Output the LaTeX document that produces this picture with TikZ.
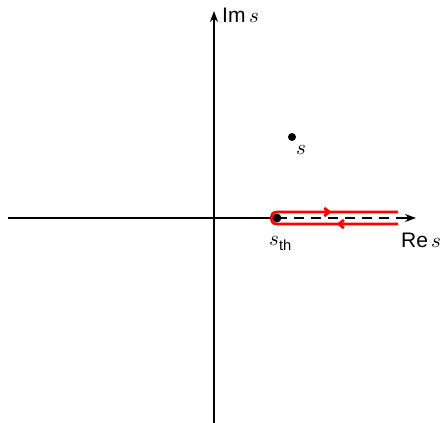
\documentclass[tikz,border=0pt]{standalone}
\usepackage{amsmath}
\usepackage{fontspec}
\setsansfont{Liberation Sans}
\usepackage{unicode-math}
\setmathfont{Latin Modern Math}
\usetikzlibrary{arrows.meta,decorations.markings}
\begin{document}
\begin{tikzpicture}[x=1pt,y=-1pt,
  axis/.style={line width=2.9pt,-{Stealth[length=11pt,width=8pt]}},
  lbl/.style={font=\fontsize{21}{25}\selectfont, inner sep=0pt},
  contour/.style={red, line width=2.8pt,
    postaction={decorate, decoration={markings,
      mark=at position 0.235 with {\arrow{Straight Barb[length=5pt,width=8pt]}},
      mark=at position 0.745 with {\arrow{Straight Barb[length=5pt,width=8pt]}}}}}]
\useasboundingbox (0,0) rectangle (440,423);
\coordinate (L) at (8,218);
\coordinate (R) at (416,218);
\coordinate (B) at (214,423);
\coordinate (T) at (214,11);
\coordinate (sth) at (277,218);
\coordinate (sp) at (292,137);
\coordinate (Rend) at (404,218);
% axes
\draw[axis] (B) -- (T);
\draw[line width=2.9pt] (L) -- (sth);
\draw[line width=2.9pt, dash pattern=on 10pt off 7pt] (sth) -- (Rend);
\draw[axis] (Rend) -- (R);
% contour
\draw[contour] (398,224) -- (277,224) .. controls (269,224) and (269,212) .. (277,212) -- (398,212);
% points
\fill (sth) circle[radius=4.4];
\fill (sp) circle[radius=4];
% labels
\node[lbl, anchor=base west] (ims) at (222,23) {\textsf{Im}\,$s$};
\node[lbl, anchor=base west] (res) at (401,247) {\textsf{Re}\,$s$};
\node[lbl, anchor=base west] (sthl) at (269,245) {$s_{\text{\sffamily th}}$};
\node[lbl, anchor=base west] (sl) at (296,154) {$s$};
\end{tikzpicture}
\end{document}
